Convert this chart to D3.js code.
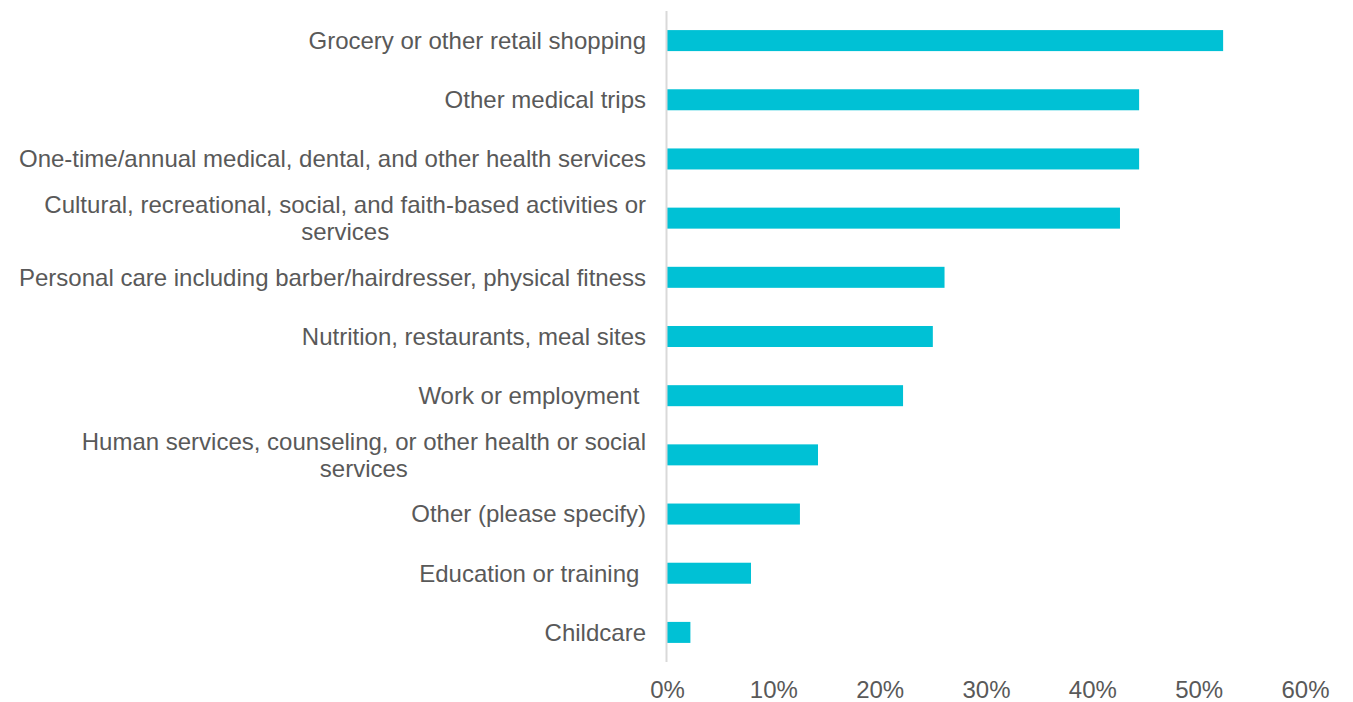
<!DOCTYPE html>
<html>
<head>
<meta charset="utf-8">
<script src="https://cdn.jsdelivr.net/npm/d3@7"></script>
<style>
  html, body { margin: 0; padding: 0; background: #ffffff; }
  svg { display: block; }
  text { font-family: "Liberation Sans", Arial, sans-serif; fill: #595959; white-space: pre; }
</style>
</head>
<body>
<svg id="chart" width="1353" height="702"></svg>
<script>
// Trip purposes, each label split into its display lines
const categories = [
  ["Grocery or other retail shopping"],
  ["Other medical trips"],
  ["One-time/annual medical, dental, and other health services"],
  ["Cultural, recreational, social, and faith-based activities or", "services"],
  ["Personal care including barber/hairdresser, physical fitness"],
  ["Nutrition, restaurants, meal sites"],
  ["Work or employment "],
  ["Human services, counseling, or other health or social", "services"],
  ["Other (please specify)"],
  ["Education or training "],
  ["Childcare"]
];
// Share of respondents, percent
const values = [52.3, 44.4, 44.4, 42.6, 26.1, 25.0, 22.2, 14.2, 12.5, 7.9, 2.2];
const tickValues = [0, 10, 20, 30, 40, 50, 60];

const svg = d3.select("#chart");
const plot = { left: 667, right: 1305, top: 11, bottom: 662 };
const labelRight = 646;

const x = d3.scaleLinear().domain([0, 60]).range([plot.left, plot.right]);
const y = d3.scaleBand()
  .domain(d3.range(categories.length))
  .range([plot.top, plot.bottom])
  .paddingInner(0.645)
  .paddingOuter(0.3225);

// Bars
svg.append("g")
  .selectAll("rect")
  .data(values)
  .join("rect")
  .attr("x", x(0))
  .attr("y", (d, i) => y(i))
  .attr("width", d => x(d) - x(0))
  .attr("height", y.bandwidth())
  .attr("fill", "#00c1d5");

// Vertical baseline at 0%
svg.append("line")
  .attr("x1", x(0) - 0.5).attr("x2", x(0) - 0.5)
  .attr("y1", plot.top).attr("y2", plot.bottom)
  .attr("stroke", "#d9d9d9")
  .attr("stroke-width", 2);

// X axis tick labels
const xAxis = d3.axisBottom(x)
  .tickValues(tickValues)
  .tickFormat(d => d + "%")
  .tickSize(0)
  .tickPadding(0);
const gx = svg.append("g")
  .attr("transform", `translate(0, 680)`)
  .call(xAxis);
gx.select(".domain").remove();
gx.selectAll("text")
  .attr("font-size", 24)
  .attr("font-family", "\"Liberation Sans\", Arial, sans-serif")
  .attr("fill", "#595959")
  .attr("y", 18)
  .attr("dy", 0);

// Category labels: right-aligned block, wrapped lines centred within it
const lineGap = 27;
const labels = svg.append("g").attr("font-size", 24);
categories.forEach((lines, i) => {
  const cy = y(i) + y.bandwidth() / 2;
  const g = labels.append("g");
  const texts = lines.map((ln, k) =>
    g.append("text")
      .attr("y", cy + (k - (lines.length - 1) / 2) * lineGap)
      .attr("dy", "0.35em")
      .text(ln)
  );
  if (lines.length === 1) {
    texts[0].attr("x", labelRight).attr("text-anchor", "end");
  } else {
    const w = d3.max(texts, t => t.node().getComputedTextLength());
    texts.forEach(t => t.attr("x", labelRight - w / 2).attr("text-anchor", "middle"));
  }
});
</script>
</body>
</html>
